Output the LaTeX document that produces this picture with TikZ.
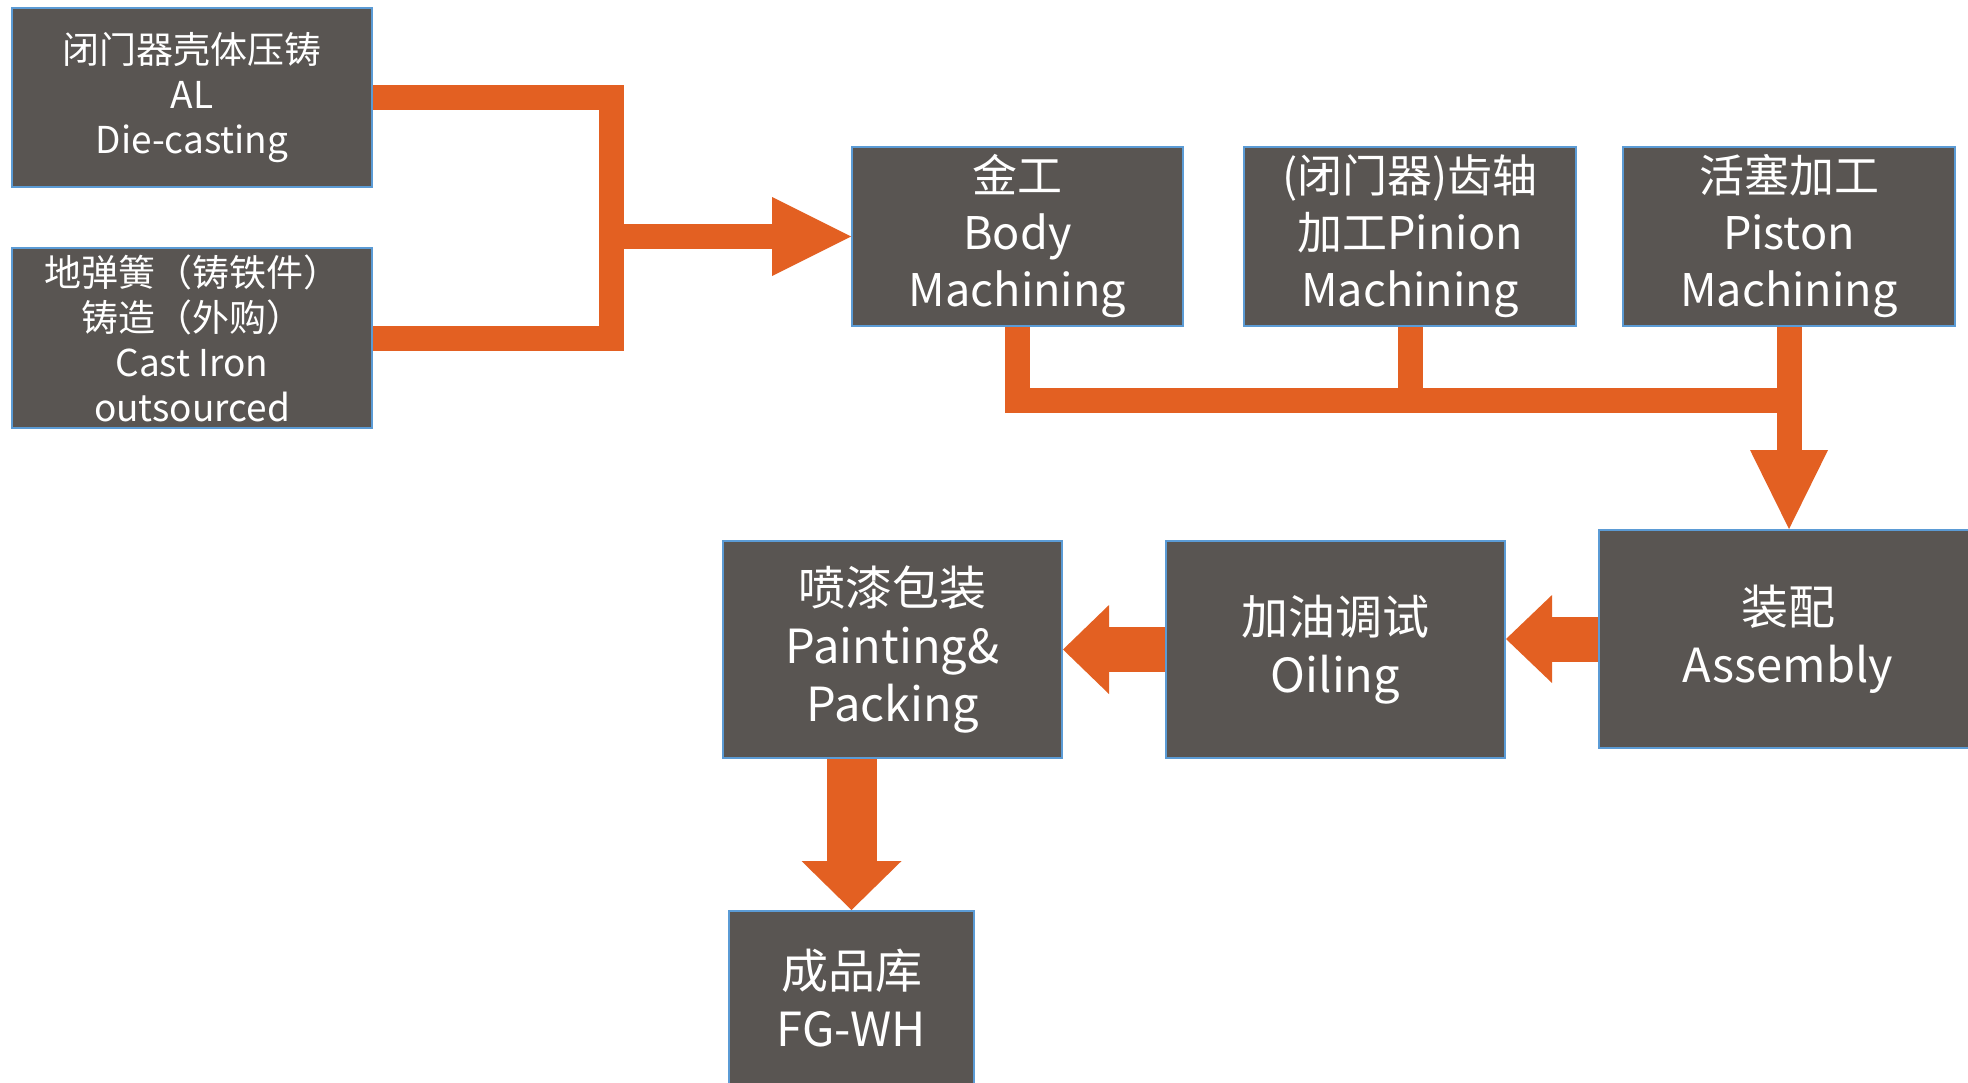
\documentclass[tikz,border=0pt]{standalone}
\usepackage{fontspec}
\setmainfont{Noto Sans CJK SC}
\usetikzlibrary{positioning}
\usetikzlibrary{arrows.meta}
\definecolor{boxgray}{RGB}{89,85,82}
\definecolor{boxblue}{RGB}{91,155,213}
\definecolor{floworange}{RGB}{227,96,34}

\begin{document}
\begin{tikzpicture}[x=0.5pt,y=-0.5pt,
    box/.style={draw=boxblue,line width=1pt,fill=boxgray,text=white,align=center,inner sep=0pt,
      font=\fontsize{22.5pt}{28.5pt}\selectfont},
    smallbox/.style={box,font=\fontsize{18.5pt}{22.5pt}\selectfont},
    bigbox/.style={box,font=\fontsize{23.5pt}{29pt}\selectfont},
    flow/.style={draw=floworange,line width=12.5pt,line join=miter},
    wideflow/.style={flow,line width=22.5pt}]
    \useasboundingbox (0,0) rectangle (1968,1082);
    \clip (0,0) rectangle (1968,1082);
    \fill[white] (0,0) rectangle (1968,1082);

        % sources
        \node[smallbox,minimum width=180pt,minimum height=89.5pt] (cast) at (192,97.5)
            {闭门器壳体压铸\\AL\\Die-casting};
        \node[smallbox,minimum width=180pt,minimum height=90pt] (iron) at (192,338)
            {地弹簧（铸铁件）\\铸造（外购）\\Cast Iron\\outsourced};

        % machining
        \node[box,minimum width=165.5pt,minimum height=89.5pt] (body) at (1017.5,236.5)
            {金工\\Body\\Machining};
        \node[box,minimum width=166pt,minimum height=89.5pt] (pinion) at (1410,236.5)
            {(闭门器)齿轴\\加工Pinion\\Machining};
        \node[box,minimum width=166pt,minimum height=89.5pt] (piston) at (1789,236.5)
            {活塞加工\\Piston\\Machining};

        % assembly line
        \node[bigbox,minimum width=189pt,minimum height=109pt] (assy) at (1788,639)
            {装配\\Assembly};
        \node[bigbox,minimum width=169.5pt,minimum height=108.5pt] (oil) at (1335.5,649.5)
            {加油调试\\Oiling};
        \node[bigbox,minimum width=169.5pt,minimum height=108.5pt] (paint) at (892.5,649.5)
            {喷漆包装\\Painting\&\\Packing};
        \node[bigbox,minimum width=122.5pt,minimum height=87pt] (fg) at (851.5,998)
            {成品库\\FG-WH};

        % connectors
        \coordinate (fork) at (611.5,236.5);
        \draw[flow] (cast.east) -| (fork) |- (iron.east);
        \draw[flow,-{Triangle[length=39.5pt,width=39.5pt,line width=0pt]}] (fork) -- (body.west);

        \coordinate (bus) at (1789.5,400.5);
        \draw[flow] (body.south) |- (bus);
        \draw[flow] (pinion.south) -- (pinion.south |- bus);
        \draw[flow,-{Triangle[length=39.5pt,width=39pt,line width=0pt]}] (piston.south) -- (piston.south |- assy.north);

        \draw[wideflow,-{Triangle[length=23pt,width=44pt,line width=0pt]}] (assy.west) -- (assy.west -| oil.east);
        \draw[wideflow,-{Triangle[length=23pt,width=44.5pt,line width=0pt]}] (oil.west) -- (paint.east);
        \draw[flow,line width=25pt,-{Triangle[length=24.5pt,width=50pt,line width=0pt]}] (fg.north |- paint.south) -- (fg.north);
\end{tikzpicture}
\end{document}
